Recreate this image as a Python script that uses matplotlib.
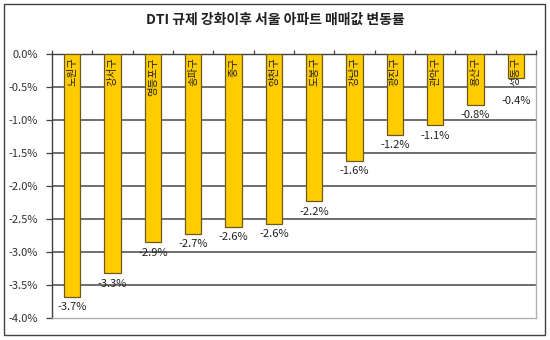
import matplotlib
matplotlib.use("Agg")
import matplotlib.pyplot as plt
from matplotlib.patches import Rectangle

plt.rcParams['font.family'] = ['Noto Sans CJK KR', 'DejaVu Sans']

title = "DTI 규제 강화이후 서울 아파트 매매값 변동률"
districts = ["노원구", "강서구", "영등포구", "송파구", "중구", "양천구",
             "도봉구", "강남구", "광진구", "관악구", "용산구", "성동구"]
changes = [-3.68, -3.32, -2.85, -2.72, -2.62, -2.57,
           -2.23, -1.62, -1.22, -1.08, -0.77, -0.37]
value_labels = ["-3.7%", "-3.3%", "-2.9%", "-2.7%", "-2.6%", "-2.6%",
                "-2.2%", "-1.6%", "-1.2%", "-1.1%", "-0.8%", "-0.4%"]
y_ticks = [0.0, -0.5, -1.0, -1.5, -2.0, -2.5, -3.0, -3.5, -4.0]

fig = plt.figure(figsize=(5.5, 3.4), dpi=100)
ax = fig.add_axes([52 / 550, 1 - 318 / 340, 484 / 550, 264 / 340])

# outer frame round the whole chart
fig.patches.append(Rectangle((4 / 550, 5 / 340), 541 / 550, 331 / 340,
                             transform=fig.transFigure, fill=False,
                             edgecolor='#404040', linewidth=1.0))

x = list(range(len(districts)))
ax.bar(x, changes, width=0.41, color='#FFCC00', edgecolor='#6b5a1e',
       linewidth=0.9, zorder=3)

for i, (name, v, lab) in enumerate(zip(districts, changes, value_labels)):
    ax.text(i, -0.05, name, rotation=90, ha='center', va='top',
            fontsize=7.5, color='#202020', zorder=4)
    # keep value label clear of the district name on short bars
    name_end = -0.05 - 0.155 * len(name)
    ax.text(i, min(v - 0.16, name_end - 0.2), lab, ha='center', va='center',
            fontsize=8, color='#202020', zorder=4)

ax.set_xlim(-0.5, len(districts) - 0.5)
ax.set_ylim(-4.0, 0.0)
ax.set_yticks(y_ticks)
ax.set_yticklabels([f"{t:.1f}%" for t in y_ticks], fontsize=8, color='#303030')
ax.tick_params(axis='y', length=4, width=0.9, color='#404040', pad=6)

# category axis sits at the top (zero line) with boundary ticks
ax.xaxis.tick_top()
ax.set_xticks([i - 0.5 for i in range(len(districts) + 1)])
ax.set_xticklabels([])
ax.tick_params(axis='x', length=3, width=0.9, color='#404040')

for t in y_ticks[1:-1]:
    ax.axhline(t, color='#484848', linewidth=1.1, zorder=1)

for side in ['top', 'left']:
    ax.spines[side].set_color('#404040')
    ax.spines[side].set_linewidth(1.0)
for side in ['right', 'bottom']:
    ax.spines[side].set_color('#b0b0b0')
    ax.spines[side].set_linewidth(1.0)

fig.text(0.5, 1 - 20 / 340, title, ha='center', va='center',
         fontsize=10, fontweight='bold', color='#202020')

fig.savefig("out.png", dpi=100)
